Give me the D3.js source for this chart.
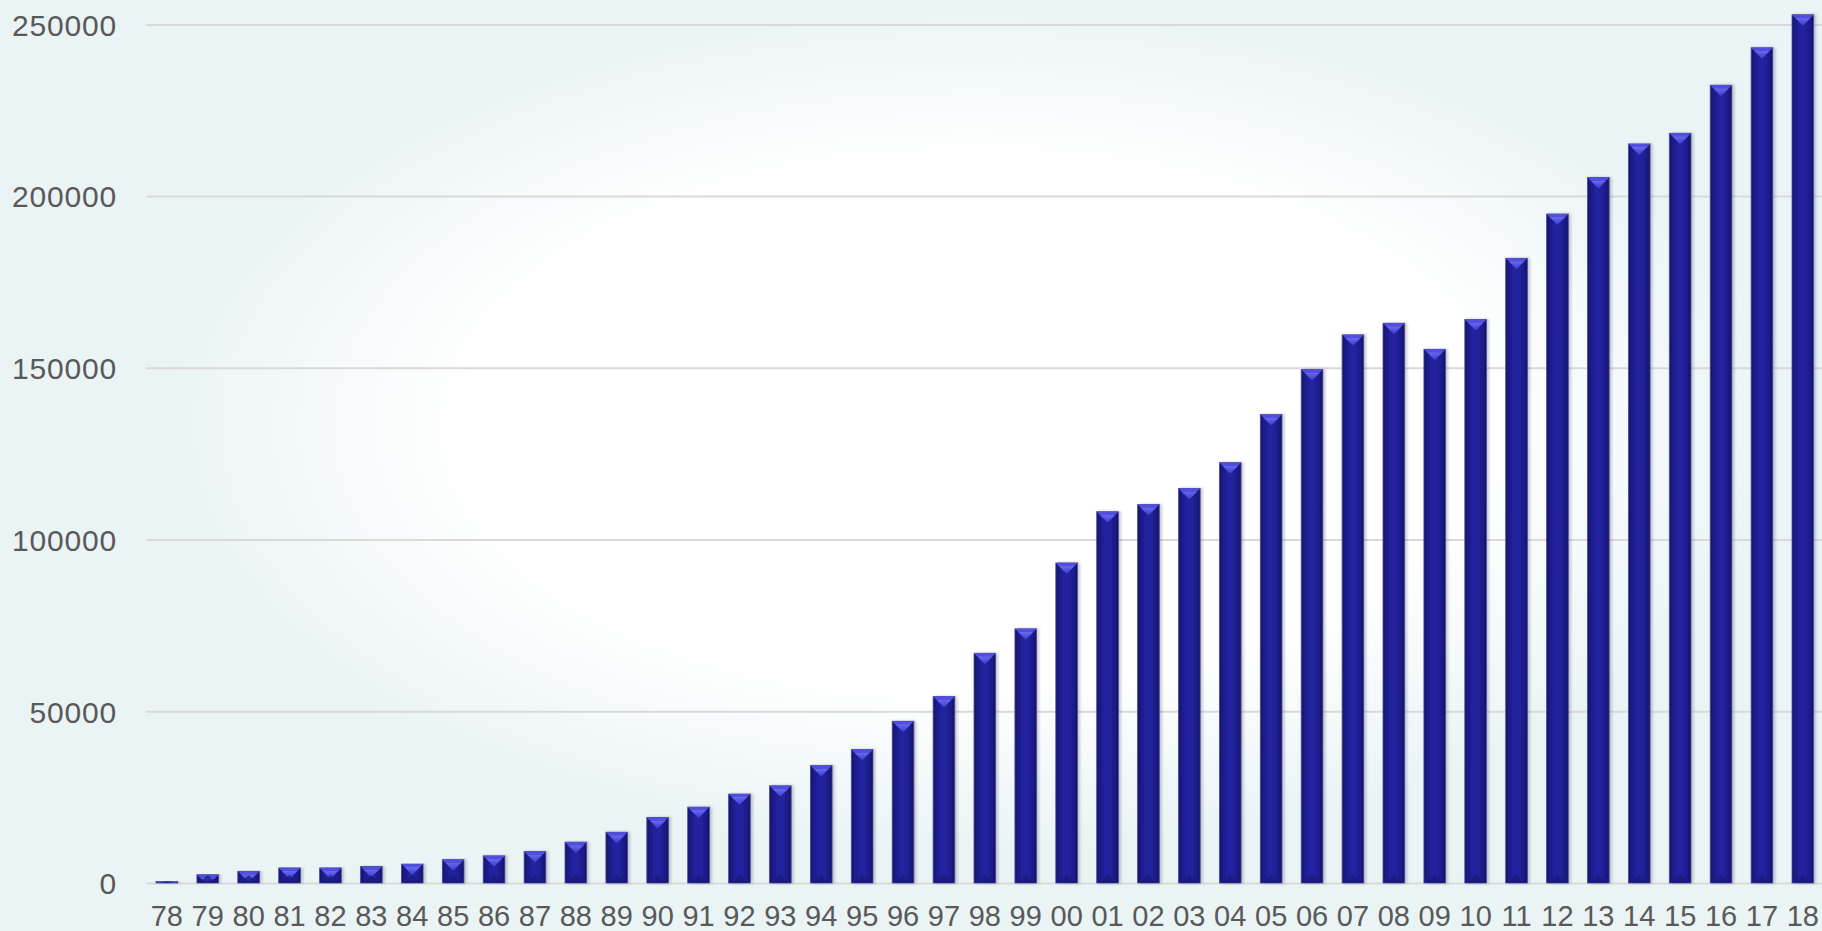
<!DOCTYPE html>
<html lang="en">
<head>
    <meta charset="UTF-8">
    <title>Bar chart 1978-2018</title>
    <script src="https://d3js.org/d3.v7.min.js"></script>
    <style>
        html, body { margin: 0; padding: 0; background: #ffffff; overflow: hidden; }
        svg { display: block; }
        .tick-label { font-family: "Liberation Sans", Arial, sans-serif; fill: #595959; }
    </style>
</head>
<body>
    <svg id="chart" width="1822" height="931"></svg>

    <script>
        // categories (two-digit years) and values
        const years = ["78","79","80","81","82","83","84","85","86","87","88","89","90","91","92","93","94","95","96","97",
                       "98","99","00","01","02","03","04","05","06","07","08","09","10","11","12","13","14","15","16","17","18"];
        const values = [500, 2400, 3400, 4400, 4400, 4800, 5500, 6800, 7900, 9200,
                        11900, 14800, 19100, 22100, 25900, 28300, 34200, 38900, 47100, 54300,
                        66900, 74000, 93200, 108100, 110200, 114900, 122400, 136400, 149500, 159600,
                        163000, 155400, 164100, 181900, 194800, 205400, 215200, 218300, 232300, 243200, 252800];
        const yTicks = [0, 50000, 100000, 150000, 200000, 250000];

        const width = 1822, height = 931;
        const svg = d3.select("#chart");
        const defs = svg.append("defs");

        // soft background: white in the middle, pale cyan towards the edges
        const bg = defs.append("radialGradient")
            .attr("id", "bg-grad")
            .attr("gradientUnits", "userSpaceOnUse")
            .attr("cx", 975).attr("cy", 425).attr("r", 820)
            .attr("gradientTransform", "translate(975,425) scale(1,0.52) translate(-975,-425)");
        bg.append("stop").attr("offset", "0%").attr("stop-color", "#ffffff");
        bg.append("stop").attr("offset", "62%").attr("stop-color", "#ffffff");
        bg.append("stop").attr("offset", "85%").attr("stop-color", "#f2f8f9");
        bg.append("stop").attr("offset", "100%").attr("stop-color", "#eaf4f5");
        svg.append("rect").attr("width", width).attr("height", height).attr("fill", "url(#bg-grad)");

        // bar body gradient
        const body = defs.append("linearGradient").attr("id", "bar-body")
            .attr("x1", "0%").attr("x2", "100%").attr("y1", "0%").attr("y2", "0%");
        body.append("stop").attr("offset", "0%").attr("stop-color", "#15156a");
        body.append("stop").attr("offset", "22%").attr("stop-color", "#1e1e90");
        body.append("stop").attr("offset", "50%").attr("stop-color", "#2424a4");
        body.append("stop").attr("offset", "78%").attr("stop-color", "#1e1e8e");
        body.append("stop").attr("offset", "100%").attr("stop-color", "#141466");

        const cap = defs.append("linearGradient").attr("id", "bar-cap")
            .attr("x1", "0%").attr("x2", "0%").attr("y1", "0%").attr("y2", "100%");
        cap.append("stop").attr("offset", "0%").attr("stop-color", "#6a6af6");
        cap.append("stop").attr("offset", "100%").attr("stop-color", "#3a3ac8");

        const shadow = defs.append("filter").attr("id", "bar-shadow")
            .attr("x", "-30%").attr("y", "-5%").attr("width", "160%").attr("height", "110%");
        shadow.append("feGaussianBlur").attr("in", "SourceAlpha").attr("stdDeviation", 1.6).attr("result", "b");
        shadow.append("feOffset").attr("in", "b").attr("dx", 2).attr("dy", 0).attr("result", "o");
        shadow.append("feComponentTransfer").attr("in", "o").attr("result", "s")
            .append("feFuncA").attr("type", "linear").attr("slope", 0.22);
        const merge = shadow.append("feMerge");
        merge.append("feMergeNode").attr("in", "s");
        merge.append("feMergeNode").attr("in", "SourceGraphic");

        const x = d3.scaleBand()
            .domain(years)
            .range([146.4, 1823.3])
            .paddingInner(0.47)
            .paddingOuter(0.235);

        const y = d3.scaleLinear()
            .domain([0, 250000])
            .range([883, 24.4]);

        // horizontal gridlines + y labels
        const yAxis = d3.axisLeft(y)
            .tickValues(yTicks)
            .tickSize(-(width - 146))
            .tickPadding(28)
            .tickFormat(d3.format("d"));

        const gy = svg.append("g")
            .attr("transform", "translate(146,0)")
            .call(yAxis);
        gy.select(".domain").remove();
        gy.selectAll(".tick line").attr("stroke", "#d9d9d9").attr("stroke-width", 2);
        gy.selectAll(".tick text")
            .attr("class", "tick-label")
            .attr("font-size", 30)
            .attr("letter-spacing", 0.8)
            .attr("x", -29)
            .attr("dy", "0.36em");

        // bars
        const data = years.map((yr, i) => ({ year: yr, value: values[i] }));
        const bars = svg.append("g").selectAll("g.bar")
            .data(data)
            .join("g")
            .attr("class", "bar");

        bars.append("rect")
            .attr("x", d => x(d.year))
            .attr("y", d => y(d.value))
            .attr("width", x.bandwidth())
            .attr("height", d => y(0) - y(d.value))
            .attr("fill", "url(#bar-body)")
            .attr("stroke", "#4b4ba8")
            .attr("stroke-width", 0.8)
            .attr("filter", "url(#bar-shadow)");

        // bevelled top: light rim and a downward pointing chevron
        bars.append("path")
            .attr("fill", "#5050dc")
            .attr("d", d => {
                const x0 = x(d.year), x1 = x0 + x.bandwidth(), t = y(d.value);
                const h = Math.min(3, y(0) - t);
                return `M${x0},${t}L${x1},${t}L${x1 - h},${t + h}L${x0 + h},${t + h}Z`;
            });
        bars.append("path")
            .attr("fill", "url(#bar-cap)")
            .attr("d", d => {
                const x0 = x(d.year), x1 = x0 + x.bandwidth(), t = y(d.value);
                const h = Math.min(3, y(0) - t);
                const depth = Math.min(11, y(0) - t);
                const cx = x0 + x.bandwidth() / 2;
                return `M${x0 + h},${t + h}L${x1 - h},${t + h}L${cx},${t + depth}Z`;
            });
        // faint darker chevron at the bottom
        bars.append("path")
            .attr("fill", "#181878")
            .attr("opacity", 0.7)
            .attr("d", d => {
                const x0 = x(d.year), x1 = x0 + x.bandwidth(), b = y(0);
                const depth = Math.min(8, b - y(d.value));
                const cx = x0 + x.bandwidth() / 2;
                return `M${x0 + 2},${b}L${x1 - 2},${b}L${cx},${b - depth}Z`;
            });

        // x labels
        svg.append("g").selectAll("text")
            .data(years)
            .join("text")
            .attr("class", "tick-label")
            .attr("font-size", 29)
            .attr("text-anchor", "middle")
            .attr("x", d => x(d) + x.bandwidth() / 2)
            .attr("y", 926)
            .text(d => d);
    </script>
</body>
</html>
